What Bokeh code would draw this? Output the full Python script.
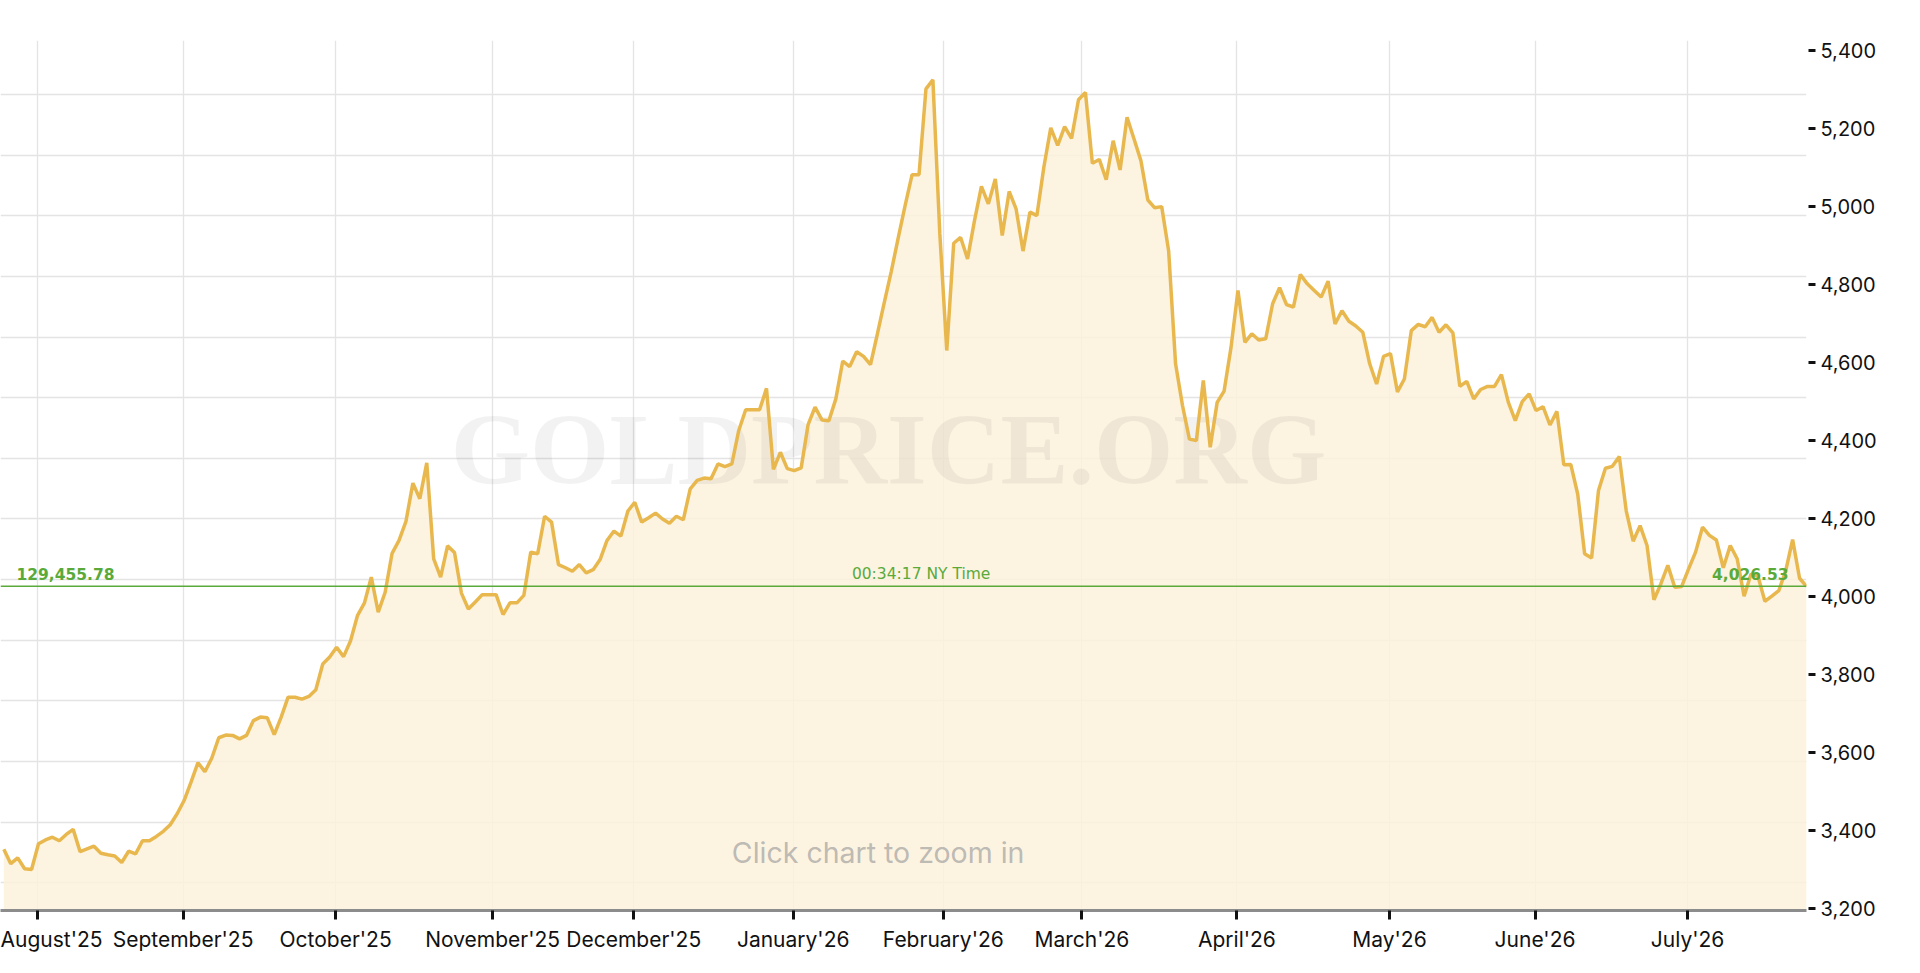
import pandas as pd
from bokeh.plotting import figure
from bokeh.models import Range1d, FixedTicker, NumeralTickFormatter, Span, Label
from bokeh.core.properties import value
from bokeh.embed import file_html
from bokeh.resources import INLINE

# ---------------- data ----------------
start_date = "2025-07-25"          # first trading day shown (weekdays only)
prices = [
    3352, 3315, 3330, 3302, 3300, 3366, 3376, 3383, 3374, 3390,
    3403, 3346, 3353, 3360, 3342, 3338, 3335, 3318, 3347, 3340,
    3374, 3374, 3385, 3398, 3415, 3443, 3477, 3524, 3574, 3551,
    3586, 3638, 3645, 3644, 3635, 3644, 3682, 3691, 3689, 3646,
    3691, 3742, 3742, 3737, 3744, 3761, 3827, 3845, 3870, 3846,
    3886, 3951, 3983, 4050, 3960, 4011, 4111, 4144, 4193, 4291,
    4251, 4343, 4097, 4050, 4130, 4113, 4009, 3968, 3986, 4005,
    4005, 4005, 3954, 3984, 3984, 4003, 4114, 4110, 4206, 4191,
    4082, 4074, 4065, 4082, 4061, 4069, 4095, 4144, 4168, 4155,
    4219, 4242, 4191, 4202, 4214, 4199, 4188, 4206, 4197, 4276,
    4298, 4304, 4302, 4340, 4333, 4340, 4426, 4479, 4479, 4479,
    4534, 4326, 4370, 4328, 4323, 4330, 4441, 4486, 4453, 4451,
    4507, 4604, 4590, 4628, 4616, 4595, 4674, 4755, 4834, 4920,
    5003, 5082, 5082, 5302, 5325, 4930, 4631, 4906, 4921, 4866,
    4964, 5052, 5007, 5071, 4926, 5039, 4994, 4886, 4986, 4977,
    5101, 5202, 5157, 5205, 5175, 5274, 5293, 5111, 5121, 5069,
    5169, 5094, 5229, 5174, 5118, 5017, 4997, 5000, 4887, 4597,
    4490, 4404, 4400, 4554, 4383, 4498, 4527, 4639, 4785, 4652,
    4674, 4658, 4661, 4751, 4792, 4749, 4742, 4826, 4802, 4785,
    4768, 4809, 4699, 4733, 4706, 4694, 4678, 4597, 4545, 4616,
    4623, 4525, 4558, 4682, 4698, 4692, 4716, 4678, 4697, 4676,
    4539, 4552, 4507, 4531, 4539, 4539, 4569, 4498, 4451, 4500,
    4520, 4477, 4487, 4440, 4475, 4338, 4339, 4263, 4110, 4099,
    4272, 4329, 4334, 4359, 4220, 4142, 4182, 4131, 3992, 4033,
    4080, 4024, 4026, 4071, 4114, 4178, 4157, 4145, 4074, 4131,
    4097, 4001, 4058, 4052, 3988, 4001, 4015, 4066, 4146, 4047,
    4026.53,
]
current_usd = 4026.53
current_local = 129455.78
time_label = "00:34:17 NY Time"
y_ticks = [3200, 3400, 3600, 3800, 4000, 4200, 4400, 4600, 4800, 5000, 5200, 5400]
local_grid_step = 5000
watermark = "GOLDPRICE.ORG"
hint = "Click chart to zoom in"

# ---------------- derived ----------------
dates = pd.bdate_range(start=start_date, periods=len(prices))
idx = list(range(len(prices)))

month_ticks = []
month_labels = {}
prev = None
for i, d in enumerate(dates):
    key = (d.year, d.month)
    if key != prev:
        if prev is not None:
            first = pd.Timestamp(d.year, d.month, 1)
            t = i - (0.5 if first.weekday() >= 5 else 0.15)
            month_ticks.append(t)
            month_labels[t] = d.strftime("%B'%y")
        prev = key

y_lo, y_hi = 3195, 5426
fx = current_local / current_usd
grid_vals = [k * local_grid_step / fx for k in range(1, 60)]
grid_vals = [g for g in grid_vals if y_lo < g < y_hi]

GOLD = "#e8b84e"
FILL = "#fbf1dc"
GREEN = "#5aaa3a"
GRID = "#e4e4e4"

p = figure(frame_width=1806, frame_height=870,
           x_range=Range1d(-0.48, len(prices) - 1), y_range=Range1d(y_lo, y_hi),
           output_backend="svg", toolbar_location=None, y_axis_location="right",
           min_border_left=0, min_border_top=40, min_border_right=10, min_border_bottom=8)
p.outline_line_color = None
p.background_fill_color = "white"
p.border_fill_color = "white"

# grids
p.xgrid.ticker = FixedTicker(ticks=month_ticks)
p.ygrid.ticker = FixedTicker(ticks=grid_vals)
p.grid.grid_line_color = GRID
p.grid.grid_line_width = 1.3

# bottom axis
xa = p.xaxis[0]
xa.ticker = FixedTicker(ticks=month_ticks)
xa.major_label_overrides = month_labels
xa.axis_line_color = "#8c8c8c"
xa.axis_line_width = 3
xa.major_tick_line_color = "#111111"
xa.major_tick_line_width = 3
xa.major_tick_in = 0
xa.major_tick_out = 9
xa.minor_tick_line_color = None
xa.major_label_standoff = 7
xa.major_label_text_font = "Inter"
xa.major_label_text_font_size = "21px"
xa.major_label_text_color = "#111111"

# right axis
ya = p.yaxis[0]
ya.ticker = FixedTicker(ticks=y_ticks)
ya.formatter = NumeralTickFormatter(format="0,0")
ya.axis_line_color = None
ya.major_tick_line_color = "#111111"
ya.major_tick_line_width = 3
ya.major_tick_in = -2
ya.major_tick_out = 9
ya.minor_tick_line_color = None
ya.major_label_standoff = 5
ya.major_label_text_font = "Inter"
ya.major_label_text_font_size = "20px"
ya.major_label_text_color = "#111111"

# area + watermark + line
p.varea(x=idx, y1=y_lo, y2=prices, fill_color=FILL, fill_alpha=0.85)
p.text(x=[127.6], y=[4377], text=[watermark], text_font=value("Liberation Serif"),
       text_font_style="bold", text_font_size="102px", text_align="center",
       text_baseline="alphabetic", text_color="#000000", text_alpha=0.05)
p.line(idx, prices, line_color=GOLD, line_width=3.5)

# current price line and labels
p.add_layout(Span(location=current_usd, dimension="width", line_color=GREEN, line_width=1.5))
p.add_layout(Label(x=p.x_range.start, y=current_usd, x_offset=16, y_offset=12,
                   text=f"{current_local:,.2f}", text_align="left", text_baseline="middle",
                   text_font="DejaVu Sans", text_font_style="bold", text_font_size="15.5px",
                   text_color=GREEN))
p.add_layout(Label(x=132.3, y=current_usd, y_offset=12, text=time_label,
                   text_align="center", text_baseline="middle",
                   text_font="DejaVu Sans", text_font_size="15.5px", text_color=GREEN))
p.add_layout(Label(x=p.x_range.end, y=current_usd, x_offset=-18, y_offset=12,
                   text=f"{current_usd:,.2f}", text_align="right", text_baseline="middle",
                   text_font="DejaVu Sans", text_font_style="bold", text_font_size="15.5px",
                   text_color=GREEN))
p.add_layout(Label(x=126.1, y=3344, text=hint, text_align="center", text_baseline="middle",
                   text_font="Inter", text_font_size="28.5px", text_color="#999999",
                   text_alpha=0.65))

open("out.html", "w").write(file_html(p, INLINE))
